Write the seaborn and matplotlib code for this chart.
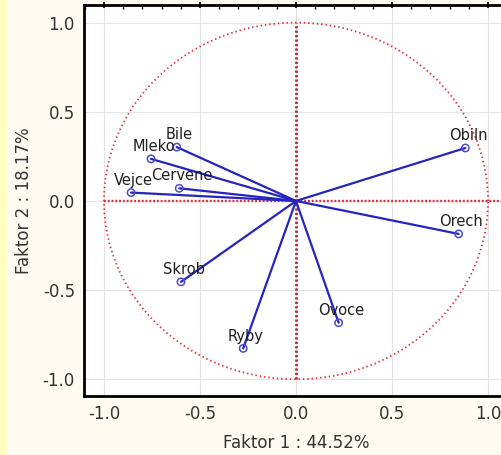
import numpy as np
import pandas as pd
import matplotlib
matplotlib.use("Agg")
import matplotlib.pyplot as plt
from matplotlib.ticker import MultipleLocator
import seaborn as sns

# Factor loadings of the food-consumption variables on the first two factors
variables = ["Obiln", "Orech", "Bile", "Mleko", "Cervene", "Vejce", "Skrob", "Ryby", "Ovoce"]
factor1 = [0.882, 0.847, -0.621, -0.755, -0.608, -0.859, -0.599, -0.275, 0.222]
factor2 = [0.297, -0.185, 0.302, 0.236, 0.071, 0.047, -0.454, -0.827, -0.683]

x_label = "Faktor 1 : 44.52%"
y_label = "Faktor 2 : 18.17%"
tick_values = [-1.0, -0.5, 0.0, 0.5, 1.0]

sns.set_theme(style="white")
plt.rcParams["font.family"] = ["DejaVu Sans"]

fig = plt.figure(figsize=(5.02, 4.55), dpi=100)
fig.patch.set_facecolor("#fffbf0")
# narrow yellow strip along the left edge of the page
fig.patches.append(plt.Rectangle((0, 0), 7 / 502, 1, transform=fig.transFigure,
                                 facecolor="#ffffc4", edgecolor="none", zorder=0))

ax = fig.add_axes([84 / 502, 59 / 455, 424 / 502, 391 / 455])
ax.set_facecolor("white")

# unit circle and the axes through the origin
theta = np.linspace(0, 2 * np.pi, 400)
ax.plot(np.cos(theta), np.sin(theta), color="#e0303a", lw=1.3,
        linestyle=(0, (0.8, 1.6)), zorder=2)
ax.plot([-1.0, 1.2], [0, 0], color="#d8303a", lw=1.7, linestyle=(0, (0.8, 0.8)), zorder=2)
ax.plot([0, 0], [-1.0, 1.0], color="#c82030", lw=2.0, linestyle=(0, (0.8, 0.8)), zorder=2)

# loading vectors drawn from the origin
seg = pd.DataFrame({
    "var": np.repeat(variables, 2),
    "f1": np.ravel([[0.0, v] for v in factor1]),
    "f2": np.ravel([[0.0, v] for v in factor2]),
})
sns.lineplot(data=seg, x="f1", y="f2", units="var", estimator=None, sort=False,
             color="#2424c0", lw=1.6, ax=ax, zorder=3)

pts = pd.DataFrame({"var": variables, "f1": factor1, "f2": factor2})
sns.scatterplot(data=pts, x="f1", y="f2", marker="o", s=28, facecolors="none",
                edgecolor="#4a4ad8", linewidth=1.1, ax=ax, zorder=4)

for name, a, b in zip(variables, factor1, factor2):
    ax.annotate(name, (a, b), xytext=(2, 3.5), textcoords="offset points",
                ha="center", va="bottom", fontsize=10.5, color="#1e1e1e", zorder=5)

ax.set_xlim(-1.104, 1.104)
ax.set_ylim(-1.094, 1.099)
ax.set_xticks(tick_values)
ax.set_yticks(tick_values)
ax.set_xticklabels([f"{t:.1f}" for t in tick_values])
ax.set_yticklabels([f"{t:.1f}" for t in tick_values])
ax.xaxis.set_minor_locator(MultipleLocator(0.1))
ax.yaxis.set_minor_locator(MultipleLocator(0.1))
ax.tick_params(which="major", direction="inout", length=5, width=1.2, color="black",
               labelsize=12, labelcolor="#333333", top=True, right=True, pad=4)
ax.tick_params(which="minor", direction="in", length=3, width=1.0, color="black",
               top=True, right=True)
ax.grid(True, which="major", color="#e4e4e4", lw=0.8)
ax.set_axisbelow(True)
for sp in ax.spines.values():
    sp.set_color("black")
    sp.set_linewidth(2.0)

ax.set_xlabel(x_label, fontsize=12, color="#333333", labelpad=8)
ax.set_ylabel(y_label, fontsize=12, color="#333333", labelpad=7)

fig.savefig("out.png", dpi=100, facecolor=fig.get_facecolor())
